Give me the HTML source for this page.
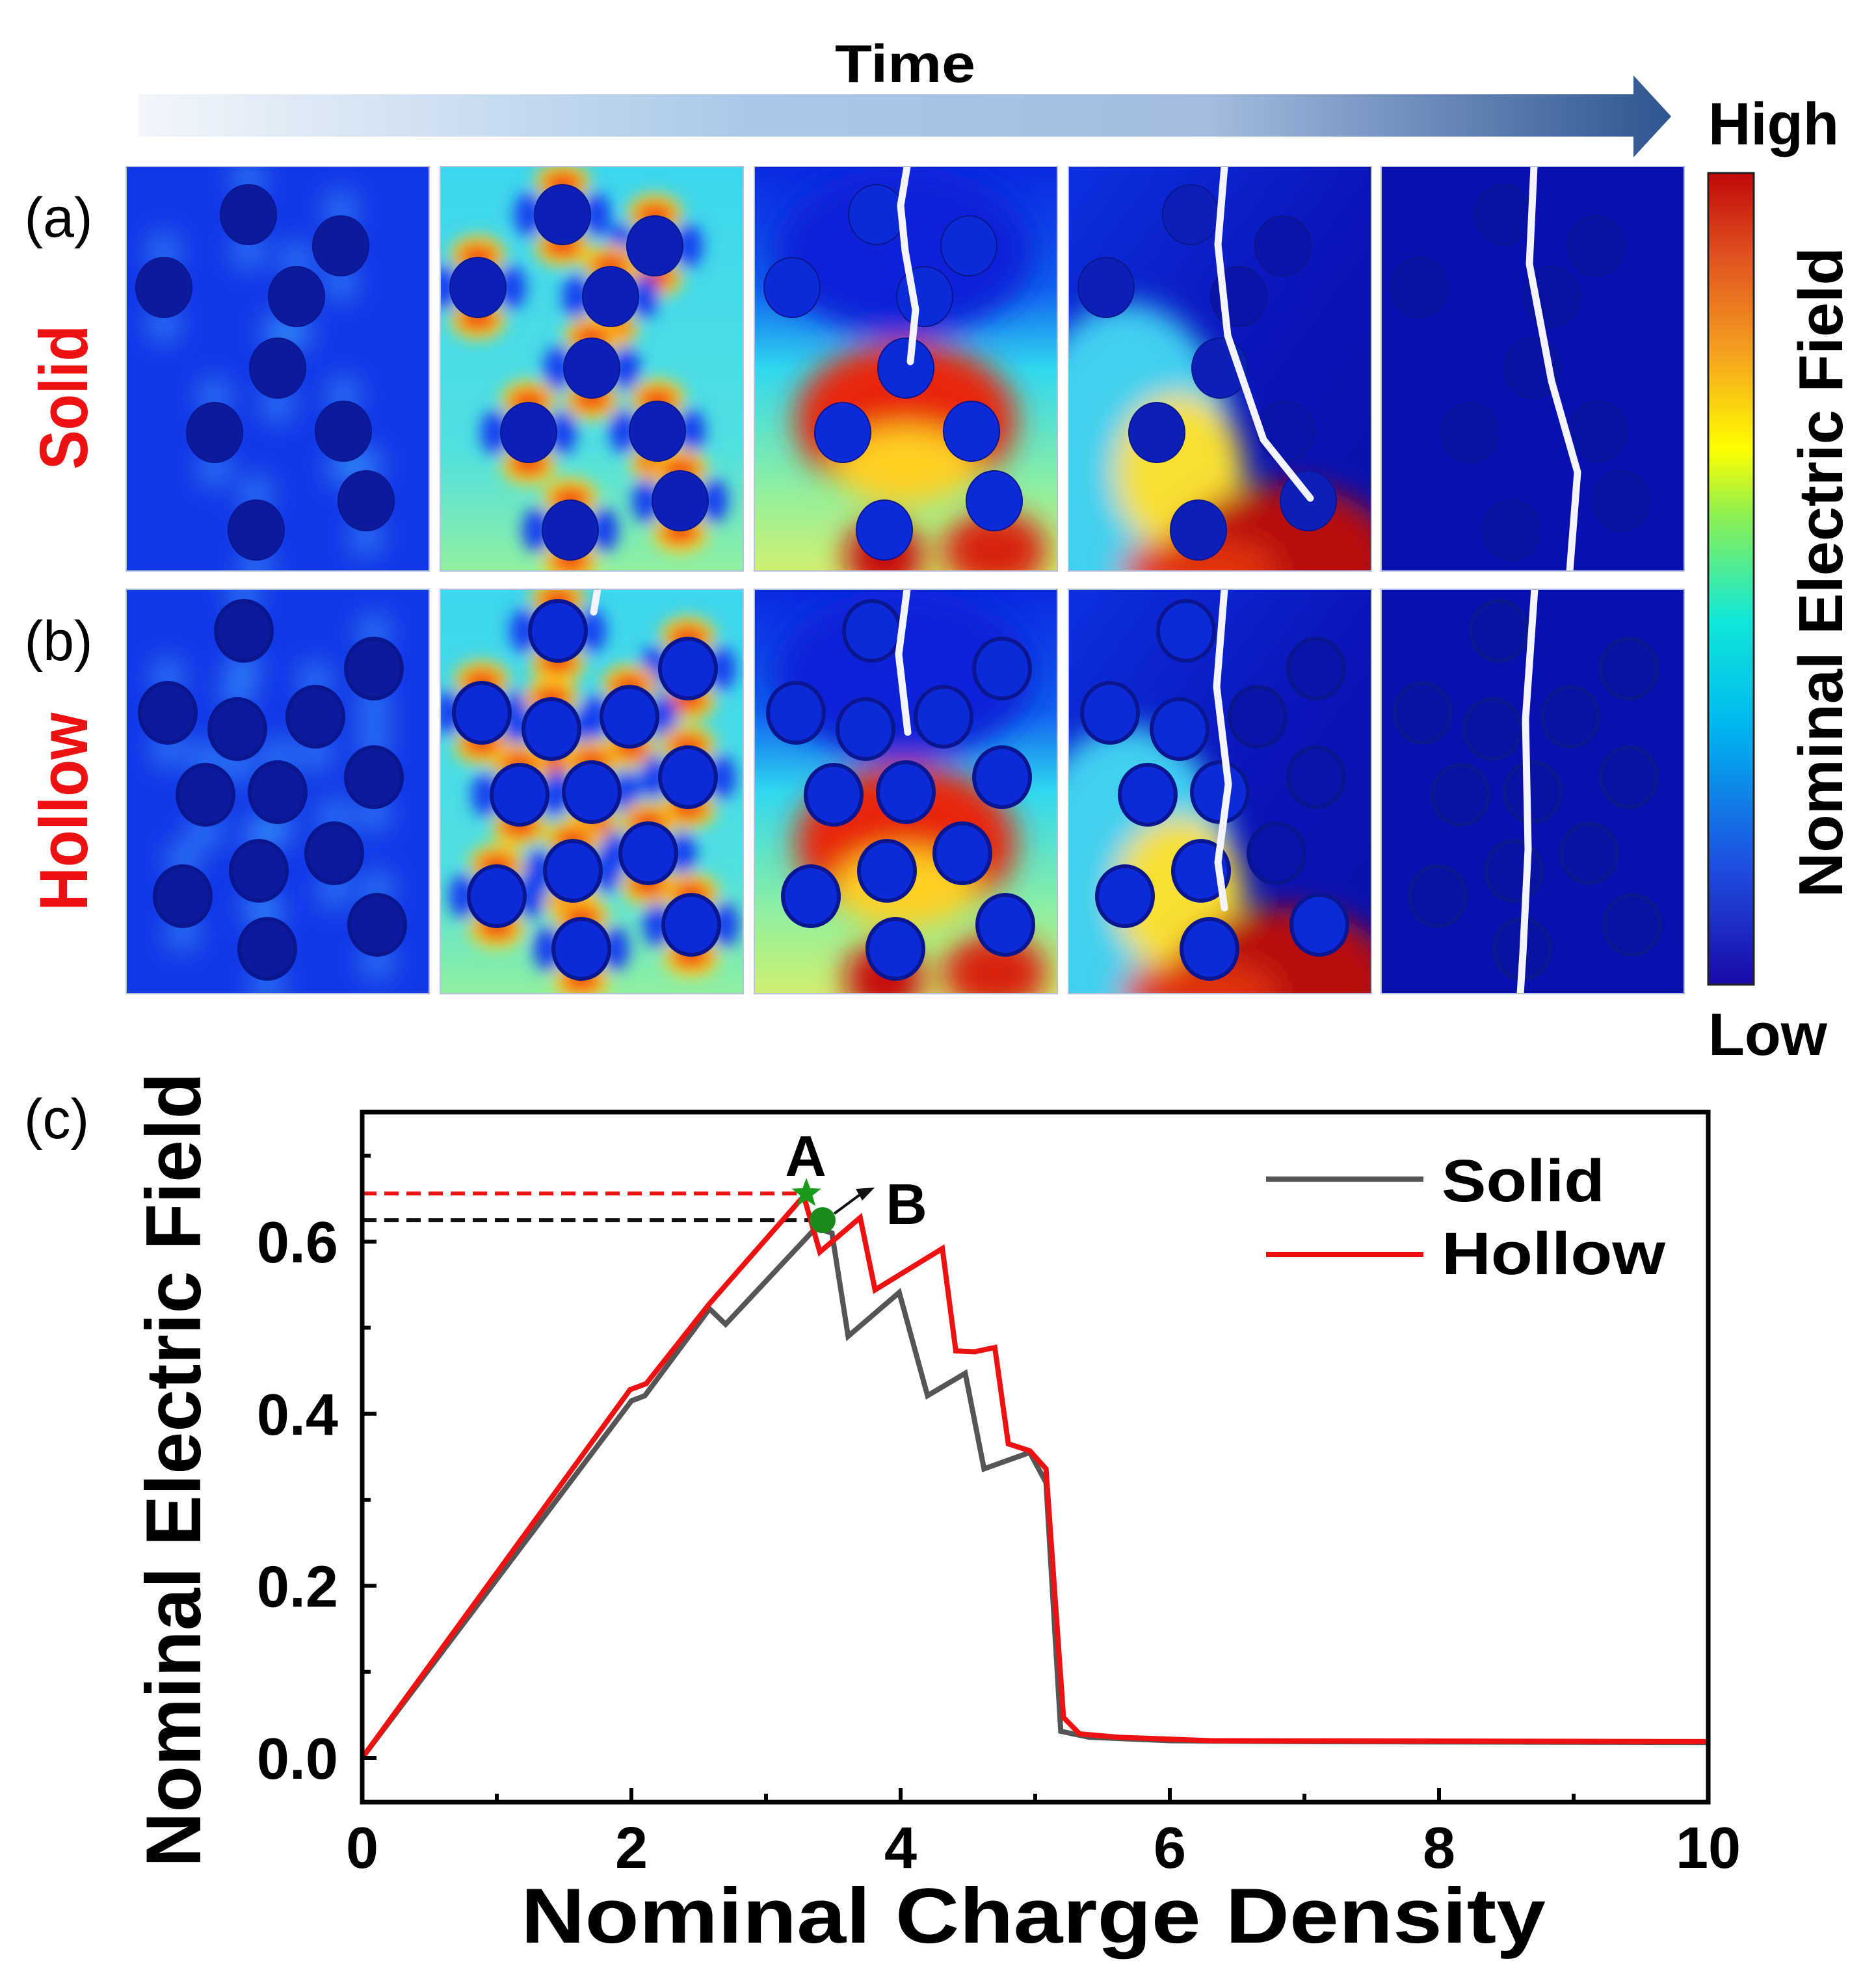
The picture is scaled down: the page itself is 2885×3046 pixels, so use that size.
<!DOCTYPE html>
<html><head><meta charset="utf-8"><style>
html,body{margin:0;padding:0;background:#fff;}
svg{display:block;}
text{font-family:"Liberation Sans",sans-serif;}
</style></head><body>
<svg id="fig" width="2885" height="3046" viewBox="0 0 2885 3046" xmlns="http://www.w3.org/2000/svg">
<defs>
<linearGradient id="timeGrad" x1="0" x2="1" y1="0" y2="0">
<stop offset="0" stop-color="#f2f6fb"/><stop offset="0.4" stop-color="#a9c8e8"/><stop offset="0.7" stop-color="#a3bcdf"/><stop offset="1" stop-color="#2d5590"/>
</linearGradient>
<linearGradient id="cbar" x1="0" x2="0" y1="1" y2="0">
<stop offset="0" stop-color="#1a0aa8"/><stop offset="0.15" stop-color="#1e50e0"/><stop offset="0.32" stop-color="#00b8f0"/><stop offset="0.45" stop-color="#10e8d8"/><stop offset="0.58" stop-color="#90f050"/><stop offset="0.66" stop-color="#ffff00"/><stop offset="0.78" stop-color="#f5a020"/><stop offset="0.9" stop-color="#e05020"/><stop offset="1" stop-color="#c00808"/>
</linearGradient>
<linearGradient id="bg2" x1="0" x2="0" y1="0" y2="1"><stop offset="0" stop-color="#3cd6ee"/><stop offset="0.7" stop-color="#50e0e0"/><stop offset="1" stop-color="#90f0a0"/></linearGradient>
<linearGradient id="bg3" x1="0" x2="0" y1="0" y2="1"><stop offset="0" stop-color="#0a28e0"/><stop offset="0.3" stop-color="#1060f0"/><stop offset="0.5" stop-color="#30d8f0"/><stop offset="0.8" stop-color="#90f0a0"/><stop offset="1" stop-color="#d0f070"/></linearGradient>
<linearGradient id="bg4" x1="0" x2="1" y1="0" y2="1"><stop offset="0" stop-color="#0c30e0"/><stop offset="0.55" stop-color="#0a14b8"/><stop offset="1" stop-color="#0a10a8"/></linearGradient>
<filter id="blur" x="-50%" y="-50%" width="200%" height="200%"><feGaussianBlur stdDeviation="22"/></filter>
<filter id="blur2" x="-50%" y="-50%" width="200%" height="200%"><feGaussianBlur stdDeviation="12"/></filter>
</defs>
<g id="topGroup"></g>
<g id="chart"></g>
</svg>
<script>
// ---------- chart data ----------
const xTicks = [0, 2, 4, 6, 8, 10];
const yTicks = [0.0, 0.2, 0.4, 0.6];
const yTickLabels = ["0.0", "0.2", "0.4", "0.6"];
const solidX = [0, 2.0, 2.1, 2.58, 2.7, 3.37, 3.49, 3.61, 3.99, 4.2, 4.48, 4.62, 4.96, 5.08, 5.19, 5.4, 6.0, 7.0, 10];
const solidY = [0, 0.415, 0.421, 0.522, 0.504, 0.616, 0.61, 0.49, 0.541, 0.421, 0.447, 0.336, 0.355, 0.32, 0.031, 0.024, 0.02, 0.019, 0.018];
const hollowX = [0, 1.99, 2.11, 2.58, 3.28, 3.4, 3.7, 3.81, 4.31, 4.41, 4.55, 4.7, 4.8, 4.96, 5.08, 5.21, 5.33, 5.62, 6.3, 10];
const hollowY = [0, 0.428, 0.435, 0.528, 0.653, 0.588, 0.628, 0.544, 0.592, 0.473, 0.472, 0.477, 0.365, 0.357, 0.336, 0.047, 0.028, 0.024, 0.02, 0.019];
const pointA = [3.3, 0.656];
const pointB = [3.42, 0.625];

const NS = "http://www.w3.org/2000/svg";
function el(tag, attrs, parent, txt) {
  const e = document.createElementNS(NS, tag);
  for (const k in attrs) e.setAttribute(k, attrs[k]);
  if (txt !== undefined) e.textContent = txt;
  parent.appendChild(e);
  return e;
}
const X0 = 557, X1 = 2627, YT = 1710, YB = 2771;
const sx = v => X0 + (v - 0) / 10 * (X1 - X0);
const sy = v => 2703 - v / 0.1 * 132.3;

const chart = document.getElementById('chart');
let t = el('text', {x: 87, y: 1750, 'font-size': 86, 'text-anchor': 'middle'}, chart, '(c)');



let d1 = el('line', {x1: sx(0), x2: sx(pointA[0]), y1: sy(pointA[1]), y2: sy(pointA[1]), stroke: '#ee1111', 'stroke-width': 6, 'stroke-dasharray': '22 12'}, chart);


let d2 = el('line', {x1: sx(0), x2: sx(pointB[0]), y1: sy(pointB[1]), y2: sy(pointB[1]), stroke: '#111', 'stroke-width': 6, 'stroke-dasharray': '22 12'}, chart);



function series(xs, ys, color, name) {
  const pts = xs.map((x, i) => sx(x).toFixed(1) + ',' + sy(ys[i]).toFixed(1)).join(' ');
  const p = el('polyline', {points: pts, fill: 'none', stroke: color, 'stroke-width': 8, 'stroke-linejoin': 'miter'}, chart);
  
  
}
series(solidX, solidY, '#555555', 'solid-line');
series(hollowX, hollowY, '#ee1111', 'hollow-line');

let circ = el('circle', {cx: sx(pointB[0]), cy: sy(pointB[1]), r: 20, fill: '#1a8a1a'}, chart);


const ax = sx(pointA[0]), ay = sy(pointA[1]);
let sp = [];
for (let i = 0; i < 10; i++) { const r = i % 2 ? 10 : 24; const a = -Math.PI / 2 + i * Math.PI / 5; sp.push((ax + r * Math.cos(a)).toFixed(1) + ',' + (ay + r * Math.sin(a)).toFixed(1)); }
let star = el('polygon', {points: sp.join(' '), fill: '#1a9a1a'}, chart);


let arr = el('line', {x1: sx(pointB[0]) + 18, y1: sy(pointB[1]) - 10, x2: 1325, y2: 1835, stroke: '#111', 'stroke-width': 4}, chart);


let ah = el('polygon', {points: '1345,1826 1316,1828 1326,1846', fill: '#111'}, chart);


t = el('text', {x: 1239, y: 1808, 'font-size': 88, 'font-weight': 'bold', 'text-anchor': 'middle'}, chart, 'A');


t = el('text', {x: 1394, y: 1882, 'font-size': 88, 'font-weight': 'bold', 'text-anchor': 'middle'}, chart, 'B');



let fr = el('rect', {x: X0, y: YT, width: X1 - X0, height: YB - YT, fill: 'none', stroke: '#000', 'stroke-width': 7}, chart);



for (let i = 0; i <= 10; i++) {
  const major = i % 2 === 0;
  const tk = el('line', {x1: sx(i), x2: sx(i), y1: YB, y2: YB - (major ? 22 : 13), stroke: '#000', 'stroke-width': 6}, chart);
  
  
}
for (let i = 0; i <= 7; i++) {
  const major = i % 2 === 0;
  const tk = el('line', {x1: X0, x2: X0 + (major ? 22 : 13), y1: sy(i / 10), y2: sy(i / 10), stroke: '#000', 'stroke-width': 6}, chart);
  
  
}
xTicks.forEach(v => {
  const tl = el('text', {x: sx(v), y: 2872, 'font-size': 90, 'font-weight': 'bold', 'text-anchor': 'middle'}, chart, String(v));
  
  
});
yTicks.forEach((v, i) => {
  const tl = el('text', {x: 520, y: sy(v) + 32, 'font-size': 90, 'font-weight': 'bold', 'text-anchor': 'end'}, chart, yTickLabels[i]);
  
  
});
t = el('text', {x: 1589, y: 2987, 'font-size': 120, 'font-weight': 'bold', 'text-anchor': 'middle', textLength: 1576, lengthAdjust: 'spacingAndGlyphs'}, chart, 'Nominal Charge Density');


t = el('text', {x: 0, y: 0, 'font-size': 120, 'font-weight': 'bold', 'text-anchor': 'middle', textLength: 1222, lengthAdjust: 'spacingAndGlyphs', transform: 'translate(308,2260) rotate(-90)'}, chart, 'Nominal Electric Field');



[['Solid', '#555555', 1813, 1847], ['Hollow', '#ee1111', 1929, 1959]].forEach(([lab, c, ly, by]) => {
  const ln = el('line', {x1: 1947, x2: 2189, y1: ly, y2: ly, stroke: c, 'stroke-width': 8}, chart);
  
  
  const lt = el('text', {x: 2217, y: by, 'font-size': 92, 'font-weight': 'bold', textLength: lab === 'Solid' ? 251 : 344, lengthAdjust: 'spacingAndGlyphs'}, chart, lab);
  
  
});

// ---------- top maps ----------
const topG = document.getElementById('topGroup');
t = el('text', {x: 1392, y: 126, 'font-size': 82, 'font-weight': 'bold', 'text-anchor': 'middle', textLength: 216, lengthAdjust: 'spacingAndGlyphs'}, topG, 'Time');


let ta = el('polygon', {points: '213,145 2512,145 2512,116 2570,179 2512,242 2512,210 213,210', fill: 'url(#timeGrad)'}, topG);



const colsX = [194, 677, 1160, 1643, 2124];
const rowsY = [256, 906];
const PW = 466, PH = 622;
const circA = [[188,74],[330,122],[58,186],[262,200],[233,310],[136,409],[334,407],[369,514],[200,559]];
const circB = [[181,64],[381,122],[64,190],[171,215],[291,196],[122,316],[233,312],[381,289],[204,433],[320,406],[87,472],[386,516],[217,553]];
const cracks = [
  [null, null, [[235,0],[225,60],[232,130],[248,220],[240,300]], [[240,0],[230,120],[245,260],[300,420],[372,510]], [[235,0],[228,150],[262,330],[302,470],[290,622]]],
  [null, [[242,0],[236,35]], [[235,0],[222,100],[236,220]], [[240,0],[228,150],[246,300],[230,420],[240,490]], [[236,0],[222,200],[226,400],[218,560],[214,622]]]
];
const bgs = ['#1238e8', 'url(#bg2)', 'url(#bg3)', 'url(#bg4)', '#0a10b0'];
rowsY.forEach((ry, r) => {
  const circs = r === 0 ? circA : circB;
  colsX.forEach((cx, c) => {
    const g = el('g', {transform: `translate(${cx},${ry})`}, topG);
    
    
    const cp = 'clip' + r + c;
    const clip = el('clipPath', {id: cp}, g);
    el('rect', {x: 0, y: 0, width: PW, height: PH}, clip);
    const inner = el('g', {'clip-path': `url(#${cp})`}, g);
    el('rect', {x: 0, y: 0, width: PW, height: PH, fill: bgs[c]}, inner);
    const fx = el('g', {filter: c === 1 ? 'url(#blur2)' : 'url(#blur)'}, inner);
    if (c === 0) {
      circs.forEach(([x, y]) => { el('ellipse', {cx: x, cy: y - 55, rx: 18, ry: 25, fill: '#3aa0f8'}, fx); el('ellipse', {cx: x, cy: y + 55, rx: 18, ry: 25, fill: '#3aa0f8'}, fx); });
    } else if (c === 1) {
      circs.forEach(([x, y]) => {
        el('ellipse', {cx: x - 52, cy: y, rx: 22, ry: 34, fill: '#1840f0'}, fx); el('ellipse', {cx: x + 52, cy: y, rx: 22, ry: 34, fill: '#1840f0'}, fx);
        el('ellipse', {cx: x, cy: y - 50, rx: 42, ry: 30, fill: '#ffd020'}, fx); el('ellipse', {cx: x, cy: y + 50, rx: 42, ry: 30, fill: '#ffd020'}, fx);
        el('ellipse', {cx: x, cy: y - 48, rx: 30, ry: 18, fill: '#f04010'}, fx); el('ellipse', {cx: x, cy: y + 48, rx: 30, ry: 18, fill: '#f04010'}, fx);
      });
    } else if (c === 2) {
      el('ellipse', {cx: 233, cy: 390, rx: 170, ry: 120, fill: '#e82810'}, fx);
      el('ellipse', {cx: 233, cy: 460, rx: 110, ry: 60, fill: '#ffd020'}, fx);
      el('ellipse', {cx: 200, cy: 600, rx: 60, ry: 60, fill: '#c81010'}, fx);
      el('ellipse', {cx: 370, cy: 590, rx: 80, ry: 60, fill: '#d82010'}, fx);
      el('ellipse', {cx: 230, cy: 130, rx: 200, ry: 130, fill: '#0a20d8'}, fx);
    } else if (c === 3) {
      el('ellipse', {cx: 90, cy: 470, rx: 170, ry: 260, fill: '#40d0f0'}, fx);
      el('ellipse', {cx: 170, cy: 470, rx: 100, ry: 120, fill: '#f8e030'}, fx);
      el('ellipse', {cx: 330, cy: 600, rx: 170, ry: 110, fill: '#b81010'}, fx);
      el('ellipse', {cx: 200, cy: 620, rx: 120, ry: 50, fill: '#e03010'}, fx);
    }
    circs.forEach(([x, y]) => {
      const fill = c === 0 ? '#0c1a9c' : c === 4 ? '#0a12a4' : (c === 3 && x > 250 && y < 450) ? '#0a14a8' : (r === 1 || c === 2) ? '#0c2ad8' : '#0c20b8';
      const ci = el('ellipse', {cx: x, cy: y, rx: 43, ry: 46, fill: fill, stroke: c === 4 ? '#0c1890' : '#0a1690', 'stroke-width': r === 1 ? 6 : 2}, inner);
      
      
    });
    const ck = cracks[r][c];
    if (ck) {
      const pl = el('polyline', {points: ck.map(p => p.join(',')).join(' '), fill: 'none', stroke: '#f4f4ff', 'stroke-width': 11, 'stroke-linejoin': 'round', 'stroke-linecap': 'round'}, inner);
      
      
    }
    el('rect', {x: 0, y: 0, width: PW, height: PH, fill: 'none', stroke: '#b8c0e0', 'stroke-width': 2}, g);
  });
});
[['(a)', 334, 'row-a-label'], ['(b)', 985, 'row-b-label']].forEach(([s, y, n]) => {
  const l = el('text', {x: 90, y: y + 30, 'font-size': 86, 'text-anchor': 'middle'}, topG, s);
  
  
});
t = el('text', {x: 0, y: 0, 'font-size': 105, 'font-weight': 'bold', fill: '#ee1111', 'text-anchor': 'middle', textLength: 222, lengthAdjust: 'spacingAndGlyphs', transform: 'translate(134,611) rotate(-90)'}, topG, 'Solid');


t = el('text', {x: 0, y: 0, 'font-size': 105, 'font-weight': 'bold', fill: '#ee1111', 'text-anchor': 'middle', textLength: 305, lengthAdjust: 'spacingAndGlyphs', transform: 'translate(134,1248) rotate(-90)'}, topG, 'Hollow');


let cb = el('rect', {x: 2627, y: 266, width: 70, height: 1248, fill: 'url(#cbar)', stroke: '#222', 'stroke-width': 3}, topG);


t = el('text', {x: 2627, y: 222, 'font-size': 92, 'font-weight': 'bold', textLength: 201, lengthAdjust: 'spacingAndGlyphs'}, topG, 'High');


t = el('text', {x: 2627, y: 1622, 'font-size': 92, 'font-weight': 'bold', textLength: 183, lengthAdjust: 'spacingAndGlyphs'}, topG, 'Low');


t = el('text', {x: 0, y: 0, 'font-size': 96, 'font-weight': 'bold', 'text-anchor': 'middle', textLength: 1000, lengthAdjust: 'spacingAndGlyphs', transform: 'translate(2833,880) rotate(-90)'}, topG, 'Nominal Electric Field');


</script>
</body></html>
